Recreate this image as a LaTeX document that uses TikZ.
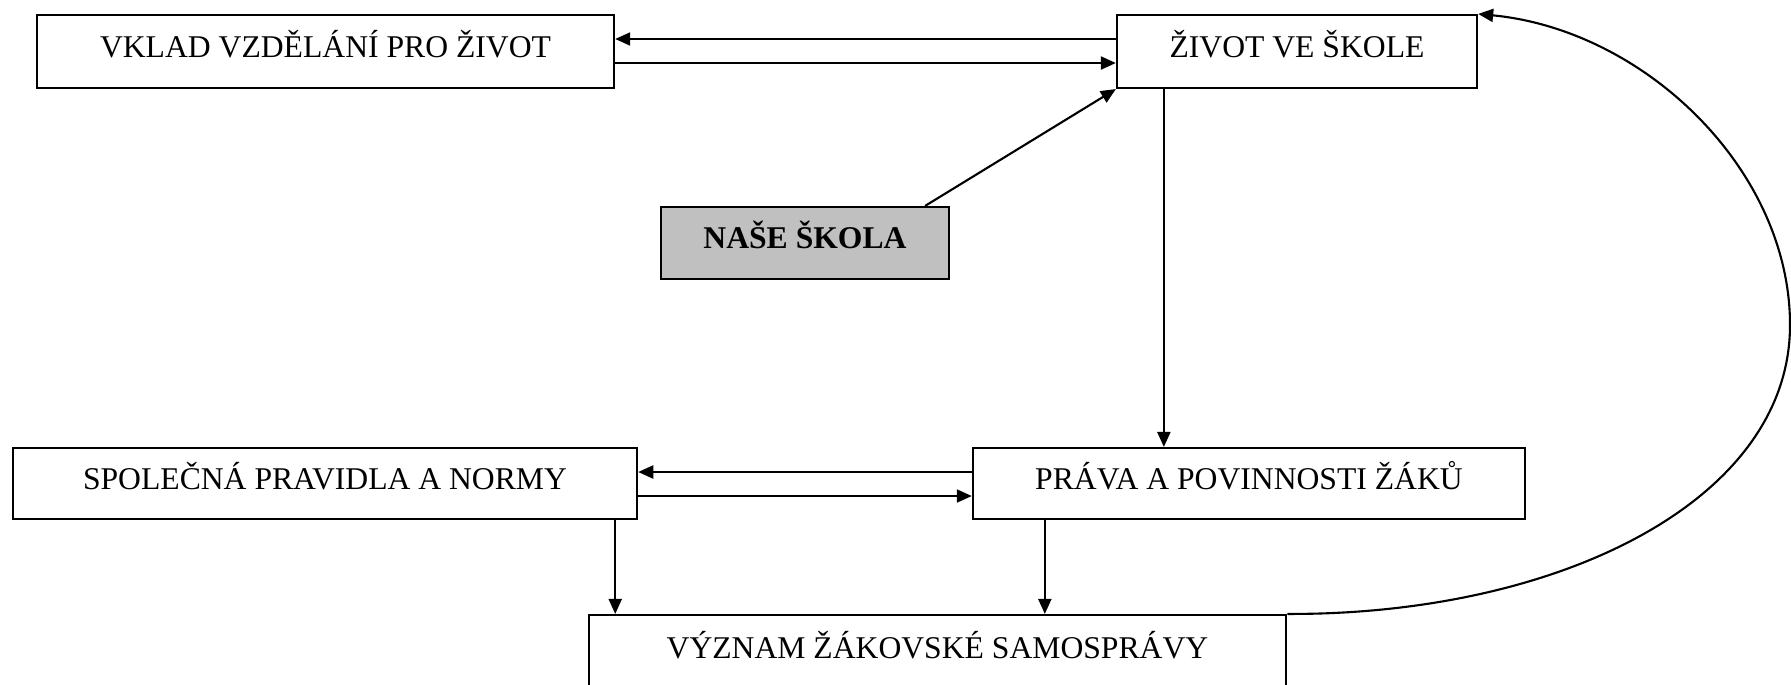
\documentclass[tikz,border=0pt]{standalone}
\usepackage{fontspec}
\setmainfont{Liberation Serif}
\usetikzlibrary{arrows.meta}
\definecolor{BoxGray}{HTML}{C0C0C0}
\tikzset{
  box/.style={draw,line width=0.6pt,minimum height=0.73cm,inner sep=0pt,
    font=\fontsize{9}{11}\selectfont,text height=0.21cm,text depth=0.1cm},
  link/.style={line width=0.6pt,-{Triangle[length=0.15cm,width=0.13cm]}}
}

\begin{document}
\begin{tikzpicture}[x=0.01cm,y=-0.01cm]
  \useasboundingbox (0,0) rectangle (1791,684);
  \clip (0,0) rectangle (1791,684);
  % boxes
  \node[box,minimum width=5.77cm] (vklad) at (325.5,51.5) {VKLAD VZDĚLÁNÍ PRO ŽIVOT};
  \node[box,minimum width=3.60cm] (zivot) at (1297,51.5) {ŽIVOT VE ŠKOLE};
  \node[box,fill=BoxGray,minimum width=2.88cm,minimum height=0.72cm,
    font=\fontsize{9}{11}\selectfont\bfseries] (nase) at (805,243) {NAŠE ŠKOLA};
  \node[box,minimum width=6.24cm,minimum height=0.71cm] (spolecna) at (325,483.5) {SPOLEČNÁ PRAVIDLA A NORMY};
  \node[box,minimum width=5.52cm,minimum height=0.71cm] (prava) at (1249,483.5) {PRÁVA A POVINNOSTI ŽÁKŮ};
  \node[box,minimum width=6.97cm,minimum height=0.75cm] (vyznam) at (937.5,652.5) {VÝZNAM ŽÁKOVSKÉ SAMOSPRÁVY};
  % top pair
  \draw[link] ([yshift=0.125cm]zivot.west) -- ([yshift=0.125cm]vklad.east);
  \draw[link] ([yshift=-0.115cm]vklad.east) -- ([yshift=-0.115cm]zivot.west);
  \draw[link] ([xshift=1.2cm]nase.north) -- (zivot.south west);
  % middle pair
  \draw[link] ([yshift=0.115cm]prava.west) -- ([yshift=0.115cm]spolecna.east);
  \draw[link] ([yshift=-0.125cm]spolecna.east) -- ([yshift=-0.125cm]prava.west);
  % drops
  \coordinate (zdrop) at ([xshift=0.48cm]zivot.south west);
  \coordinate (sdrop) at ([xshift=-0.23cm]spolecna.south east);
  \coordinate (pdrop) at ([xshift=0.73cm]prava.south west);
  \draw[link] (zdrop) -- (zdrop |- prava.north);
  \draw[link] (sdrop) -- (sdrop |- vyznam.north);
  \draw[link] (pdrop) -- (pdrop |- vyznam.north);
  % return loop
  \draw[link] (vyznam.north east) .. controls (1560,615) and (1790,500) .. (1790,325)
    .. controls (1790,170) and (1645,30) .. (zivot.north east);
\end{tikzpicture}
\end{document}
